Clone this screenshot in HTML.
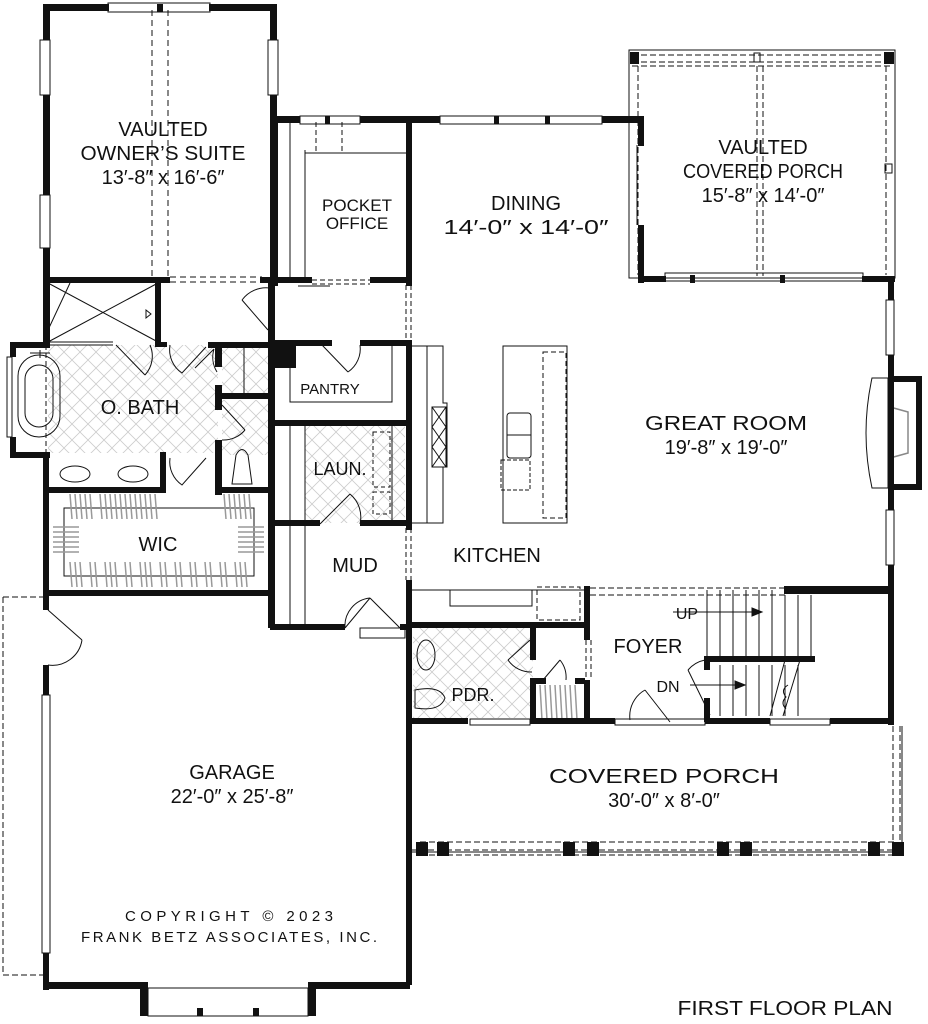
<!DOCTYPE html>
<html><head><meta charset="utf-8"><style>
html,body{margin:0;padding:0;background:#fff}
svg{display:block}
text{font-family:"Liberation Sans",sans-serif;fill:#111}
</style></head><body>
<svg width="928" height="1024" viewBox="0 0 928 1024" xmlns="http://www.w3.org/2000/svg">
<defs>
<pattern id="tile" width="16" height="16" patternUnits="userSpaceOnUse">
<path d="M0 0L16 16M16 0L0 16" stroke="#ccc" stroke-width="0.8"/>
</pattern>
</defs>
<rect x="48" y="345" width="170" height="108" fill="url(#tile)"/>
<rect x="222" y="345" width="48" height="50" fill="url(#tile)"/>
<rect x="222" y="400" width="48" height="55" fill="url(#tile)"/>
<rect x="305" y="425" width="100" height="98" fill="url(#tile)"/>
<rect x="413" y="628" width="120" height="90" fill="url(#tile)"/>

<g fill="none" stroke="#111" stroke-width="1">
<path d="M152 10V277M168 10V277" stroke-dasharray="6,4"/>
<path d="M170 277H262M170 282H262" stroke-dasharray="6,4"/>
<rect x="108" y="3" width="102" height="9"/>
<rect x="40" y="40" width="10" height="55"/><rect x="40" y="195" width="10" height="53"/>
<rect x="268" y="40" width="10" height="55"/>
<path d="M290 120V280M305 150V280M305 153H408"/>
<path d="M316 122V153M342 122V153" stroke-dasharray="5,3"/>
<path d="M312 280H370M312 284H370" stroke-dasharray="5,3"/>
<path d="M298 286H330"/>
<rect x="300" y="116" width="60" height="8"/>
<rect x="440" y="116" width="162" height="8"/>
<path d="M637 145V225"/>
<rect x="629" y="50" width="266" height="228"/>
<path d="M632 55H892M632 62H892M632 66H892" stroke-dasharray="6,3"/>
<path d="M638 66V275M886 66V275" stroke-dasharray="6,3"/>
<path d="M757 66V276M763 66V276" stroke-dasharray="6,3"/>
<rect x="754" y="53" width="6" height="9"/><rect x="885" y="164" width="7" height="9"/>
<rect x="665" y="273" width="198" height="8"/>
<path d="M406 285V340M411 285V340" stroke-dasharray="5,3"/>
<path d="M48 330L70 283M48 283L158 342M48 342L158 283"/>
<path d="M146 310l5 4-5 4z"/>
<path d="M48 342H113M48 345H113"/>
<path d="M116 345L145 375M145 375A28 28 0 0 0 150 345"/>
<rect x="18" y="355" width="42" height="82" rx="21"/>
<rect x="25" y="365" width="28" height="62" rx="14"/>
<path d="M46 345V455" stroke-dasharray="5,3"/>
<path d="M30 353H50M40 350V358"/>
<rect x="7" y="357" width="5" height="80"/>
<path d="M170 345A28 28 0 0 0 182 373L206 347M195 368L214 349M214 349A28 28 0 0 0 217 372"/>
<path d="M222 405L245 430M245 430A28 28 0 0 1 222 440"/>
<path d="M170 458A28 28 0 0 0 182 485L206 458"/>
<path d="M244 345V395"/>
<ellipse cx="75" cy="474" rx="15" ry="8"/><ellipse cx="133" cy="474" rx="15" ry="8"/>
<path d="M232 484L236 455Q242 444 248 455L252 484Z"/>
<rect x="64" y="508" width="190" height="68"/>
</g>
<g stroke="#999" stroke-width="1.5">
<path d="M70 494l2 25M75 494l2 25M80 494l2 25M85 494l2 25M90 494l2 25M100 494l2 25M105 494l2 25M110 494l2 25M115 494l2 25M120 494l2 25M125 494l2 25M130 494l2 25M135 494l2 25M140 494l2 25M145 494l2 25M150 494l2 25M155 494l2 25M224 494l2 25M229 494l2 25M234 494l2 25M239 494l2 25M244 494l2 25M249 494l2 25"/>
<path d="M70 562l2 25M75 562l2 25M80 562l2 25M90 562l2 25M95 562l2 25M105 562l2 25M110 562l2 25M115 562l2 25M125 562l2 25M130 562l2 25M140 562l2 25M145 562l2 25M150 562l2 25M160 562l2 25M165 562l2 25M175 562l2 25M180 562l2 25M190 562l2 25M195 562l2 25M205 562l2 25M210 562l2 25M220 562l2 25M225 562l2 25M235 562l2 25M240 562l2 25M245 562l2 25"/>
<path d="M53 527h26M53 532h26M53 537h26M53 542h26M53 547h26M53 552h26M238 527h26M238 532h26M238 537h26M238 542h26M238 547h26M238 552h26"/>
<path d="M540 685l2 35M545 685l2 35M550 685l2 35M555 685l2 35M560 685l2 35M565 685l2 35M570 685l2 35M575 685l2 35"/>
</g>
<g fill="none" stroke="#111" stroke-width="1">
<path d="M242 300L268 330M242 300A30 30 0 0 1 270 288"/>
<path d="M290 368V402H392V345"/>
<path d="M322 345L348 372M348 372A28 28 0 0 0 360 345"/>
<path d="M290 425V628M305 425V628M392 425V524"/>
<path d="M373 432H390V487H373ZM373 492H390V514H373Z" stroke-dasharray="4,3"/>
<path d="M320 524L350 494M350 494A30 30 0 0 1 360 524"/>
<path d="M345 628L370 598M370 598L400 628M345 628A28 28 0 0 1 370 598"/>
<rect x="360" y="628" width="45" height="10"/>
<path d="M412 346H427V523H412M427 346H443V403H447V467H443V523H427"/>
<rect x="432" y="407" width="14" height="60"/>
<path d="M432 407l14 20M446 407l-14 20M432 427l14 20M446 427l-14 20M432 447l14 20M446 447l-14 20"/>
<rect x="503" y="346" width="64" height="177"/>
<path d="M543 352H566V518H543Z" stroke-dasharray="5,3"/>
<rect x="507" y="413" width="24" height="45" rx="3"/>
<path d="M507 435H531"/>
<path d="M501 460H530V490H501Z" stroke-dasharray="4,2"/>
<path d="M406 528V580M411 528V580" stroke-dasharray="5,3"/>
<path d="M412 590H585M450 590V606H532V590"/>
<path d="M537 587H580V620H537Z" stroke-dasharray="5,3"/>
<path d="M590 588H785M590 595H785" stroke-dasharray="6,3"/>
<rect x="886" y="300" width="8" height="55"/><rect x="886" y="510" width="8" height="55"/>
<path d="M872 378H888V488H872Q860 433 872 378Z"/>
<path d="M890 407L908 412V453L890 458" stroke="#888" stroke-width="1.5"/>
<path d="M707 590V660M720 590V660M733 590V660M746 590V660M759 590V660M772 590V660M785 595V660M798 595V660M811 595V660"/>
<path d="M720 665V716M733 665V716M746 665V716M759 665V716M772 665V716M785 665V716M798 665V716"/>
<path d="M673 612H760M690 685H740"/>
<path d="M785 660L770 716M800 660L783 716M788 685q-8 5-2 12q-6 6 0 12"/>
<ellipse cx="426" cy="655" rx="9" ry="15"/>
<path d="M415 690Q440 685 445 698Q440 712 415 708Z"/>
<path d="M508 660L530 640M508 660A28 28 0 0 0 532 672"/>
<path d="M543 680L560 660M560 660A28 28 0 0 1 566 680"/>
<path d="M586 640V680M591 640V680" stroke-dasharray="5,3"/>
<path d="M645 690L670 722M645 690A30 30 0 0 0 630 720"/>
<path d="M688 670L710 715M688 670A30 30 0 0 1 705 660"/>
<path d="M410 850H900M420 842H895M420 855H895M893 726V850M900 726V846" stroke-dasharray="6,3"/>
<path d="M410 852H902V726"/>
<rect x="470" y="719" width="60" height="6"/><rect x="615" y="719" width="90" height="6"/><rect x="770" y="719" width="60" height="6"/>
<path d="M3 597H43M3 597V975H43" stroke-dasharray="6,3"/>
<path d="M48 610L82 640M48 665A30 30 0 0 0 82 640"/>
<rect x="42" y="695" width="8" height="258"/>
<rect x="148" y="988" width="160" height="28"/>
</g>
<g fill="#111">
<rect x="43" y="4" width="7" height="36"/><rect x="43" y="95" width="7" height="100"/><rect x="43" y="248" width="7" height="100"/>
<rect x="43" y="4" width="66" height="7"/><rect x="209" y="4" width="68" height="7"/><rect x="157" y="4" width="6" height="8"/>
<rect x="270" y="4" width="7" height="36"/><rect x="270" y="95" width="7" height="190"/>
<rect x="43" y="277" width="127" height="6"/><rect x="260" y="277" width="17" height="6"/>
<rect x="272" y="116" width="28" height="7"/><rect x="360" y="116" width="80" height="7"/><rect x="602" y="116" width="42" height="7"/>
<rect x="325" y="116" width="5" height="8"/><rect x="494" y="116" width="5" height="8"/><rect x="545" y="116" width="5" height="8"/>
<rect x="272" y="116" width="6" height="170"/>
<rect x="406" y="116" width="6" height="170"/>
<rect x="272" y="277" width="40" height="6"/><rect x="370" y="277" width="42" height="6"/>
<rect x="638" y="116" width="6" height="30"/><rect x="638" y="225" width="6" height="58"/>
<rect x="638" y="276" width="28" height="6"/><rect x="862" y="276" width="33" height="6"/>
<rect x="630" y="52" width="9" height="12"/><rect x="884" y="52" width="10" height="12"/>
<rect x="690" y="275" width="5" height="8"/><rect x="780" y="275" width="5" height="8"/>
<rect x="888" y="276" width="6" height="24"/><rect x="888" y="355" width="6" height="155"/><rect x="888" y="565" width="6" height="160"/>
<rect x="890" y="376" width="32" height="6"/><rect x="916" y="376" width="6" height="114"/><rect x="890" y="484" width="32" height="6"/>
<rect x="43" y="283" width="6" height="62"/><rect x="155" y="283" width="6" height="62"/><rect x="155" y="342" width="12" height="5"/>
<rect x="10" y="342" width="40" height="6"/><rect x="10" y="342" width="6" height="15"/><rect x="10" y="437" width="6" height="20"/>
<rect x="10" y="452" width="40" height="6"/><rect x="43" y="452" width="6" height="143"/>
<rect x="208" y="342" width="60" height="6"/><rect x="215" y="342" width="7" height="25"/><rect x="215" y="385" width="7" height="25"/>
<rect x="218" y="393" width="55" height="6"/><rect x="215" y="440" width="7" height="55"/>
<rect x="160" y="452" width="6" height="40"/><rect x="43" y="487" width="123" height="6"/><rect x="215" y="487" width="60" height="6"/>
<rect x="268" y="283" width="7" height="345"/>
<rect x="43" y="590" width="232" height="6"/>
<rect x="270" y="340" width="62" height="6"/><rect x="360" y="340" width="52" height="6"/>
<rect x="272" y="342" width="24" height="26"/>
<rect x="270" y="420" width="142" height="6"/>
<rect x="406" y="340" width="6" height="190"/>
<rect x="270" y="520" width="50" height="6"/><rect x="360" y="520" width="52" height="6"/>
<rect x="406" y="580" width="6" height="405"/>
<rect x="270" y="624" width="75" height="6"/><rect x="400" y="624" width="10" height="6"/>
<rect x="408" y="622" width="180" height="6"/><rect x="584" y="586" width="6" height="54"/><rect x="584" y="680" width="6" height="44"/>
<rect x="784" y="586" width="110" height="8"/>
<rect x="530" y="624" width="6" height="36"/><rect x="530" y="678" width="6" height="44"/><rect x="536" y="678" width="10" height="6"/><rect x="575" y="678" width="10" height="6"/>
<rect x="705" y="656" width="110" height="6"/><rect x="704" y="656" width="6" height="14"/><rect x="704" y="698" width="6" height="24"/>
<rect x="408" y="718" width="60" height="6"/><rect x="530" y="718" width="85" height="6"/><rect x="705" y="718" width="65" height="6"/><rect x="830" y="718" width="64" height="6"/>
<rect x="416" y="842" width="12" height="14"/><rect x="437" y="842" width="12" height="14"/>
<rect x="563" y="842" width="12" height="14"/><rect x="587" y="842" width="12" height="14"/>
<rect x="717" y="842" width="12" height="14"/><rect x="740" y="842" width="12" height="14"/>
<rect x="868" y="842" width="12" height="14"/><rect x="892" y="842" width="12" height="14"/>
<rect x="43" y="595" width="6" height="15"/><rect x="43" y="665" width="6" height="30"/><rect x="43" y="953" width="6" height="37"/>
<rect x="43" y="982" width="103" height="7"/><rect x="310" y="982" width="100" height="7"/>
<rect x="140" y="982" width="8" height="34"/><rect x="308" y="982" width="8" height="34"/>
<rect x="197" y="1008" width="6" height="8"/><rect x="253" y="1008" width="6" height="8"/>
</g>
<g stroke="#111" fill="#111">
<path d="M762 612l-10-4v8z"/><path d="M745 685l-10-4v8z"/>
</g>
<g font-size="20" text-anchor="middle">
<text x="163" y="136">VAULTED</text>
<text x="163" y="160" textLength="165" lengthAdjust="spacingAndGlyphs">OWNER’S SUITE</text>
<text x="163" y="184">13′-8″ x 16′-6″</text>
<text x="357" y="211" font-size="17">POCKET</text>
<text x="357" y="229" font-size="17">OFFICE</text>
<text x="526" y="210">DINING</text>
<text x="526" y="234" textLength="165" lengthAdjust="spacingAndGlyphs">14′-0″ x 14′-0″</text>
<text x="763" y="154">VAULTED</text>
<text x="763" y="178" textLength="160" lengthAdjust="spacingAndGlyphs">COVERED PORCH</text>
<text x="763" y="202">15′-8″ x 14′-0″</text>
<text x="330" y="394" font-size="15">PANTRY</text>
<text x="140" y="414">O. BATH</text>
<text x="726" y="430" textLength="162" lengthAdjust="spacingAndGlyphs">GREAT ROOM</text>
<text x="726" y="454">19′-8″ x 19′-0″</text>
<text x="340" y="475" font-size="18">LAUN.</text>
<text x="158" y="551">WIC</text>
<text x="355" y="572">MUD</text>
<text x="497" y="562">KITCHEN</text>
<text x="648" y="653">FOYER</text>
<text x="687" y="619" font-size="16">UP</text>
<text x="668" y="692" font-size="16">DN</text>
<text x="473" y="701" font-size="18">PDR.</text>
<text x="664" y="783" textLength="230" lengthAdjust="spacingAndGlyphs">COVERED PORCH</text>
<text x="664" y="807">30′-0″ x 8′-0″</text>
<text x="232" y="779">GARAGE</text>
<text x="232" y="803">22′-0″ x 25′-8″</text>
<text x="229" y="921" font-size="15" textLength="208" lengthAdjust="spacing">COPYRIGHT © 2023</text>
<text x="229" y="942" font-size="15" textLength="296" lengthAdjust="spacing">FRANK BETZ ASSOCIATES, INC.</text>
<text x="785" y="1015" font-size="20" textLength="215" lengthAdjust="spacingAndGlyphs">FIRST FLOOR PLAN</text>
</g>
</svg>
</body></html>
